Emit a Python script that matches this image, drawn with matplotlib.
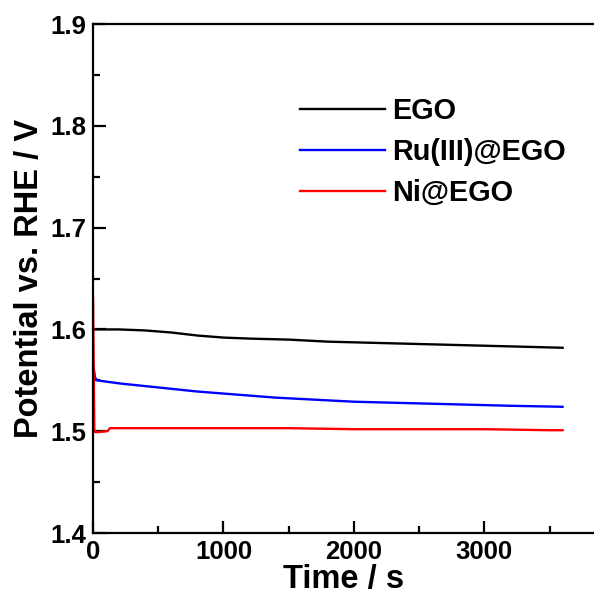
import numpy as np
import matplotlib
matplotlib.use('Agg')
import matplotlib.pyplot as plt

# ---------------------------------------------------------------------------
# Datos
# ---------------------------------------------------------------------------
t_ego = [0, 15, 200, 400, 600, 800, 1000, 1200, 1500, 1800, 2100, 2400, 2700, 3000, 3300, 3600]
e_ego = [1.600, 1.600, 1.600, 1.599, 1.597, 1.594, 1.592, 1.591, 1.590, 1.588, 1.587, 1.586, 1.585, 1.584, 1.583, 1.582]

t_ru = [0, 15, 30, 200, 500, 800, 1100, 1400, 1700, 2000, 2300, 2600, 2900, 3200, 3600]
e_ru = [1.567, 1.553, 1.550, 1.547, 1.543, 1.539, 1.536, 1.533, 1.531, 1.529, 1.528, 1.527, 1.526, 1.525, 1.524]

t_ni = [0, 10, 20, 110, 130, 500, 1000, 1500, 2000, 2500, 3000, 3500, 3600]
e_ni = [1.631, 1.500, 1.499, 1.500, 1.503, 1.503, 1.503, 1.503, 1.502, 1.502, 1.502, 1.501, 1.501]

labels = ['EGO', 'Ru(III)@EGO', 'Ni@EGO']
colors = ['black', '#0000ff', '#ff0000']

plt.rcParams['font.family'] = ['Liberation Sans', 'DejaVu Sans']
plt.rcParams['font.weight'] = 'bold'

fig = plt.figure(figsize=(5.94, 6.01), dpi=100)
ax = fig.add_axes([0.1566, 0.1131, 0.8434, 0.8469])

for t, e, lab, c in zip([t_ego, t_ru, t_ni], [e_ego, e_ru, e_ni], labels, colors):
    ax.plot(t, e, color=c, lw=1.7, label=lab)

ax.set_xlim(0, 3841)
ax.set_ylim(1.4, 1.9)
ax.set_xticks([0, 1000, 2000, 3000])
ax.set_xticks([500, 1500, 2500, 3500], minor=True)
ax.set_yticks([1.4, 1.5, 1.6, 1.7, 1.8, 1.9])
ax.set_yticks([1.45, 1.55, 1.65, 1.75, 1.85], minor=True)

ax.spines['right'].set_visible(False)
for s in ['left', 'bottom', 'top']:
    ax.spines[s].set_linewidth(1.6)

ax.tick_params(which='major', direction='in', length=9, width=1.6, labelsize=18.5, pad=5)
ax.tick_params(which='minor', direction='in', length=5, width=1.6)
ax.tick_params(top=False, right=False, which='both')

ax.set_xlabel('Time / s', fontsize=23.5, fontweight='bold', labelpad=0)
ax.set_ylabel('Potential vs. RHE / V', fontsize=23.5, fontweight='bold', labelpad=4)

leg = ax.legend(loc='upper left', bbox_to_anchor=(0.361, 0.908), frameon=False,
                fontsize=20.8, handlelength=2.94, handletextpad=0.24, labelspacing=0.45)

fig.savefig('out.png', dpi=100)
